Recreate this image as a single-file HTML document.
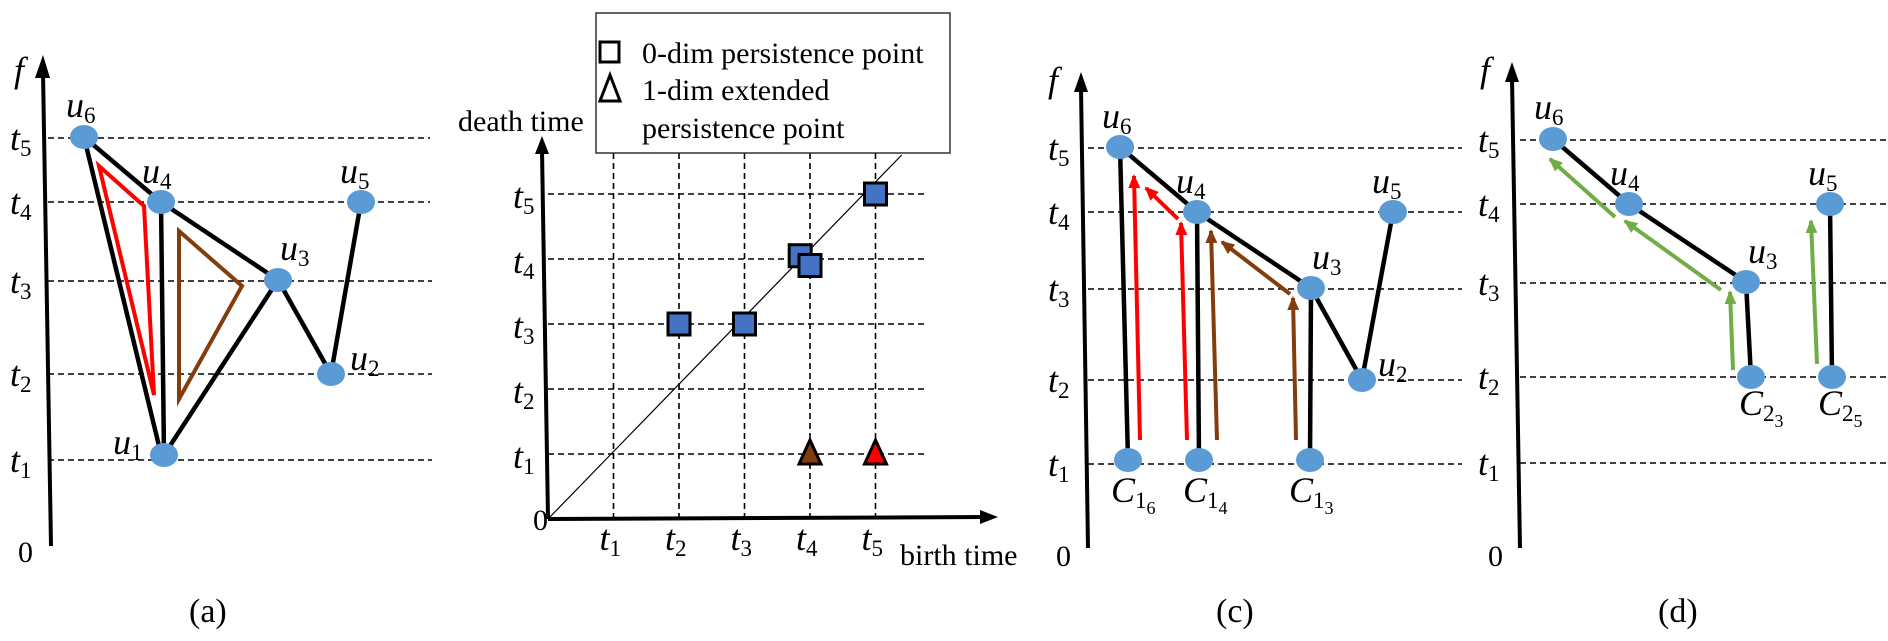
<!DOCTYPE html>
<html><head><meta charset="utf-8"><style>
html,body{margin:0;padding:0;background:#fff;}
svg{display:block;}
svg text{font-family:"Liberation Serif","DejaVu Serif","Times New Roman",serif;}
.m{font-family:"Liberation Serif","DejaVu Serif",serif;font-style:italic;font-size:36px;fill:#000;}
.s{font-style:normal;font-size:23px;}
.ss{font-style:normal;font-size:18px;}
.n{font-family:"Liberation Serif","DejaVu Serif",serif;font-size:30px;fill:#000;}
.cap{font-family:"Liberation Serif","DejaVu Serif",serif;font-size:34px;fill:#000;}
.d{stroke:#000;stroke-width:1.6;stroke-dasharray:6,4;fill:none;}
.e{stroke:#000;stroke-width:4.5;fill:none;}
.ax{stroke:#000;stroke-width:4;fill:none;}
.nd{fill:#5b9bd5;}
</style></head><body>
<svg id="fig" width="1888" height="641" viewBox="0 0 1888 641" xmlns="http://www.w3.org/2000/svg" font-family="Liberation Serif, DejaVu Serif, serif">
<defs>
<marker id="ar" markerWidth="14" markerHeight="12" refX="12" refY="6" orient="auto" markerUnits="userSpaceOnUse"><path d="M0,0 L14,6 L0,12 z" fill="#ff0000"/></marker>
<marker id="ab" markerWidth="14" markerHeight="12" refX="12" refY="6" orient="auto" markerUnits="userSpaceOnUse"><path d="M0,0 L14,6 L0,12 z" fill="#843c0c"/></marker>
<marker id="ag" markerWidth="14" markerHeight="12" refX="12" refY="6" orient="auto" markerUnits="userSpaceOnUse"><path d="M0,0 L14,6 L0,12 z" fill="#70ad47"/></marker>
</defs>

<!-- Panel (a) -->
<g>
<line class="ax" x1="51" y1="546" x2="43" y2="72"/>
<path d="M35,78 L43,55 L50,78 z" fill="#000"/>
<text class="m" x="14" y="82" font-family="Liberation Serif, serif">f</text>
<text class="n" x="18" y="562" font-family="Liberation Serif, serif">0</text>
<g>
<line class="d" x1="48" y1="138" x2="430" y2="138"/><line class="d" x1="48" y1="202" x2="430" y2="202"/>
<line class="d" x1="48" y1="281" x2="432" y2="281"/><line class="d" x1="48" y1="374" x2="432" y2="374"/>
<line class="d" x1="48" y1="460" x2="432" y2="460"/></g>
<text class="m" x="10" y="150">t<tspan class="s" dy="6">5</tspan></text>
<text class="m" x="10" y="214">t<tspan class="s" dy="6">4</tspan></text>
<text class="m" x="10" y="293">t<tspan class="s" dy="6">3</tspan></text>
<text class="m" x="10" y="386">t<tspan class="s" dy="6">2</tspan></text>
<text class="m" x="10" y="472">t<tspan class="s" dy="6">1</tspan></text>
<polygon points="99,166 144,206 154,395" fill="none" stroke="#ff0000" stroke-width="4"/>
<polygon points="179,231 242,286 179,399" fill="none" stroke="#843c0c" stroke-width="4"/>
<g>
<line class="e" x1="84" y1="137" x2="161" y2="202"/><line class="e" x1="84" y1="137" x2="160" y2="450"/>
<line class="e" x1="161" y1="202" x2="164" y2="455"/><line class="e" x1="161" y1="202" x2="278" y2="280"/>
<line class="e" x1="278" y1="280" x2="164" y2="455"/><line class="e" x1="278" y1="280" x2="331" y2="374"/>
<line class="e" x1="331" y1="374" x2="361" y2="202"/></g>
<g>
<ellipse class="nd" cx="84" cy="137" rx="14" ry="12"/><ellipse class="nd" cx="161" cy="202" rx="14" ry="12"/>
<ellipse class="nd" cx="278" cy="280" rx="14" ry="12"/><ellipse class="nd" cx="331" cy="374" rx="14" ry="12"/>
<ellipse class="nd" cx="164" cy="455" rx="14" ry="12"/><ellipse class="nd" cx="361" cy="202" rx="14" ry="12"/></g>
<text class="m" x="66" y="117">u<tspan class="s" dy="6">6</tspan></text>
<text class="m" x="142" y="183">u<tspan class="s" dy="6">4</tspan></text>
<text class="m" x="280" y="260">u<tspan class="s" dy="6">3</tspan></text>
<text class="m" x="340" y="183">u<tspan class="s" dy="6">5</tspan></text>
<text class="m" x="350" y="370">u<tspan class="s" dy="6">2</tspan></text>
<text class="m" x="113" y="454">u<tspan class="s" dy="6">1</tspan></text>
<text class="cap" x="189" y="622">(a)</text>
</g>

<!-- Panel (b) -->
<g id="pb">
<line class="ax" x1="548" y1="519" x2="986" y2="517"/>
<path d="M980,510 L998,517 L980,524 z" fill="#000"/>
<line class="ax" x1="548" y1="519" x2="542" y2="150"/>
<path d="M535,154 L542,136 L549,154 z" fill="#000"/>
<text class="n" x="533" y="530">0</text>
<text class="n" x="458" y="131">death time</text>
<text class="n" x="900" y="565">birth time</text>
<rect x="596" y="13" width="354" height="140" fill="#fff" stroke="#333" stroke-width="1.5"/>
<rect x="600" y="42" width="19" height="20" fill="none" stroke="#000" stroke-width="3"/>
<path d="M600,101 L610,75 L620,101 z" fill="none" stroke="#000" stroke-width="3"/>
<text class="n" x="642" y="63">0-dim persistence point</text>
<text class="n" x="642" y="100">1-dim extended</text>
<text class="n" x="642" y="138">persistence point</text>
</g>

<!-- Panel (c) -->
<g>
<line class="ax" x1="1088" y1="548" x2="1081" y2="88"/>
<path d="M1074,92 L1081,72 L1088,92 z" fill="#000"/>
<text class="m" x="1048" y="92">f</text>
<text class="n" x="1056" y="566">0</text>
<g>
<line class="d" x1="1088" y1="148" x2="1462" y2="148"/><line class="d" x1="1088" y1="212" x2="1462" y2="212"/>
<line class="d" x1="1088" y1="289" x2="1462" y2="289"/><line class="d" x1="1088" y1="380" x2="1462" y2="380"/>
<line class="d" x1="1088" y1="464" x2="1462" y2="464"/></g>
<text class="m" x="1048" y="160">t<tspan class="s" dy="6">5</tspan></text>
<text class="m" x="1048" y="224">t<tspan class="s" dy="6">4</tspan></text>
<text class="m" x="1048" y="301">t<tspan class="s" dy="6">3</tspan></text>
<text class="m" x="1048" y="392">t<tspan class="s" dy="6">2</tspan></text>
<text class="m" x="1048" y="476">t<tspan class="s" dy="6">1</tspan></text>
<g>
<line class="e" x1="1120" y1="147" x2="1128" y2="460"/><line class="e" x1="1197" y1="212" x2="1199" y2="460"/>
<line class="e" x1="1311" y1="288" x2="1310" y2="460"/><line class="e" x1="1120" y1="147" x2="1197" y2="212"/>
<line class="e" x1="1197" y1="212" x2="1311" y2="288"/><line class="e" x1="1311" y1="288" x2="1362" y2="380"/>
<line class="e" x1="1362" y1="380" x2="1393" y2="212"/></g>
<g stroke-width="4">
<line x1="1140" y1="440" x2="1134" y2="176" stroke="#ff0000" marker-end="url(#ar)"/>
<line x1="1187" y1="440" x2="1181" y2="223" stroke="#ff0000" marker-end="url(#ar)"/>
<line x1="1178" y1="219" x2="1146" y2="188" stroke="#ff0000" marker-end="url(#ar)"/>
<line x1="1217" y1="440" x2="1211" y2="231" stroke="#843c0c" marker-end="url(#ab)"/>
<line x1="1296" y1="440" x2="1293" y2="298" stroke="#843c0c" marker-end="url(#ab)"/>
<line x1="1290" y1="294" x2="1222" y2="242" stroke="#843c0c" marker-end="url(#ab)"/></g>
<g>
<ellipse class="nd" cx="1120" cy="147" rx="14" ry="12"/><ellipse class="nd" cx="1197" cy="212" rx="14" ry="12"/>
<ellipse class="nd" cx="1311" cy="288" rx="14" ry="12"/><ellipse class="nd" cx="1362" cy="380" rx="14" ry="12"/>
<ellipse class="nd" cx="1393" cy="212" rx="14" ry="12"/><ellipse class="nd" cx="1128" cy="460" rx="14" ry="12"/>
<ellipse class="nd" cx="1199" cy="460" rx="14" ry="12"/><ellipse class="nd" cx="1310" cy="460" rx="14" ry="12"/></g>
<text class="m" x="1102" y="128">u<tspan class="s" dy="6">6</tspan></text>
<text class="m" x="1176" y="193">u<tspan class="s" dy="6">4</tspan></text>
<text class="m" x="1312" y="269">u<tspan class="s" dy="6">3</tspan></text>
<text class="m" x="1372" y="193">u<tspan class="s" dy="6">5</tspan></text>
<text class="m" x="1378" y="376">u<tspan class="s" dy="6">2</tspan></text>
<text class="m" x="1111" y="502">C<tspan class="s" dy="6">1</tspan><tspan class="ss" dy="6">6</tspan></text>
<text class="m" x="1183" y="502">C<tspan class="s" dy="6">1</tspan><tspan class="ss" dy="6">4</tspan></text>
<text class="m" x="1289" y="502">C<tspan class="s" dy="6">1</tspan><tspan class="ss" dy="6">3</tspan></text>
<text class="cap" x="1216" y="622">(c)</text>
</g>

<!-- Panel (d) -->
<g>
<line class="ax" x1="1520" y1="548" x2="1512" y2="78"/>
<path d="M1505,82 L1512,62 L1519,82 z" fill="#000"/>
<text class="m" x="1480" y="82">f</text>
<text class="n" x="1488" y="566">0</text>
<g>
<line class="d" x1="1520" y1="140" x2="1888" y2="140"/><line class="d" x1="1520" y1="204" x2="1888" y2="204"/>
<line class="d" x1="1520" y1="283" x2="1888" y2="283"/><line class="d" x1="1520" y1="377" x2="1888" y2="377"/>
<line class="d" x1="1520" y1="463" x2="1888" y2="463"/></g>
<text class="m" x="1478" y="152">t<tspan class="s" dy="6">5</tspan></text>
<text class="m" x="1478" y="216">t<tspan class="s" dy="6">4</tspan></text>
<text class="m" x="1478" y="295">t<tspan class="s" dy="6">3</tspan></text>
<text class="m" x="1478" y="389">t<tspan class="s" dy="6">2</tspan></text>
<text class="m" x="1478" y="475">t<tspan class="s" dy="6">1</tspan></text>
<g>
<line class="e" x1="1553" y1="139" x2="1629" y2="204"/><line class="e" x1="1629" y1="204" x2="1746" y2="282"/>
<line class="e" x1="1746" y1="282" x2="1751" y2="377"/><line class="e" x1="1830" y1="204" x2="1832" y2="377"/></g>
<g stroke-width="4" stroke="#70ad47">
<line x1="1615" y1="217" x2="1550" y2="159" marker-end="url(#ag)"/>
<line x1="1721" y1="290" x2="1625" y2="221" marker-end="url(#ag)"/>
<line x1="1733" y1="370" x2="1730" y2="292" marker-end="url(#ag)"/>
<line x1="1817" y1="364" x2="1811" y2="221" marker-end="url(#ag)"/></g>
<g>
<ellipse class="nd" cx="1553" cy="139" rx="14" ry="12"/><ellipse class="nd" cx="1629" cy="204" rx="14" ry="12"/>
<ellipse class="nd" cx="1746" cy="282" rx="14" ry="12"/><ellipse class="nd" cx="1830" cy="204" rx="14" ry="12"/>
<ellipse class="nd" cx="1751" cy="377" rx="14" ry="12"/><ellipse class="nd" cx="1832" cy="377" rx="14" ry="12"/></g>
<text class="m" x="1534" y="119">u<tspan class="s" dy="6">6</tspan></text>
<text class="m" x="1610" y="185">u<tspan class="s" dy="6">4</tspan></text>
<text class="m" x="1748" y="263">u<tspan class="s" dy="6">3</tspan></text>
<text class="m" x="1808" y="185">u<tspan class="s" dy="6">5</tspan></text>
<text class="m" x="1739" y="415">C<tspan class="s" dy="6">2</tspan><tspan class="ss" dy="6">3</tspan></text>
<text class="m" x="1818" y="415">C<tspan class="s" dy="6">2</tspan><tspan class="ss" dy="6">5</tspan></text>
<text class="cap" x="1658" y="622">(d)</text>
</g>
</svg>
<script>
const tickValues = [1, 2, 3, 4, 5];
const tickLabels = ["1", "2", "3", "4", "5"];
const zeroDimBirth = [2, 3, 3.85, 4, 5];
const zeroDimDeath = [3, 3, 4.05, 3.9, 5];
const oneDimBirth = [4, 5];
const oneDimDeath = [1, 1];
const oneDimColors = ["#843c0c", "#ff0000"];

const NS = "http://www.w3.org/2000/svg";
const pb = document.getElementById("pb");
const legend = pb.querySelector("rect");
function xs(v){ return 548 + 65.5 * v; }
function ys(v){ return 519 - 65 * v; }
function mk(tag, attrs){ const e = document.createElementNS(NS, tag); for (const k in attrs) e.setAttribute(k, attrs[k]); return e; }

tickValues.forEach(function(v, i){
  const vl = mk("line", {x1: xs(v), y1: 153, x2: xs(v), y2: 519, class: "d", "stroke-width": 1.3});
  
  
  pb.insertBefore(vl, legend);
  const hl = mk("line", {x1: 548, y1: ys(v), x2: 927, y2: ys(v), class: "d", "stroke-width": 1.3});
  
  
  pb.insertBefore(hl, legend);
  const tx = mk("text", {x: xs(v) - 14, y: 550, class: "m"});
  tx.innerHTML = 't<tspan class="s" dy="6">' + tickLabels[i] + '</tspan>';
  
  
  pb.appendChild(tx);
  const ty = mk("text", {x: 513, y: ys(v) + 14, class: "m"});
  ty.innerHTML = 't<tspan class="s" dy="6">' + tickLabels[i] + '</tspan>';
  
  
  pb.appendChild(ty);
});
const diag = mk("line", {x1: xs(0), y1: ys(0), x2: xs(5.4), y2: ys(5.6), stroke: "#000", "stroke-width": 1.2});


pb.insertBefore(diag, legend);

zeroDimBirth.forEach(function(b, i){
  const r = mk("rect", {x: xs(b) - 11, y: ys(zeroDimDeath[i]) - 11, width: 22, height: 22, fill: "#4472c4", stroke: "#000", "stroke-width": 3});
  
  
  pb.appendChild(r);
});
oneDimBirth.forEach(function(b, i){
  const x = xs(b), y = ys(oneDimDeath[i]);
  const t = mk("path", {d: "M" + (x - 11) + "," + (y + 10) + " L" + x + "," + (y - 14) + " L" + (x + 11) + "," + (y + 10) + " z", fill: oneDimColors[i], stroke: "#000", "stroke-width": 3});
  
  
  pb.appendChild(t);
});
</script>
</body></html>
